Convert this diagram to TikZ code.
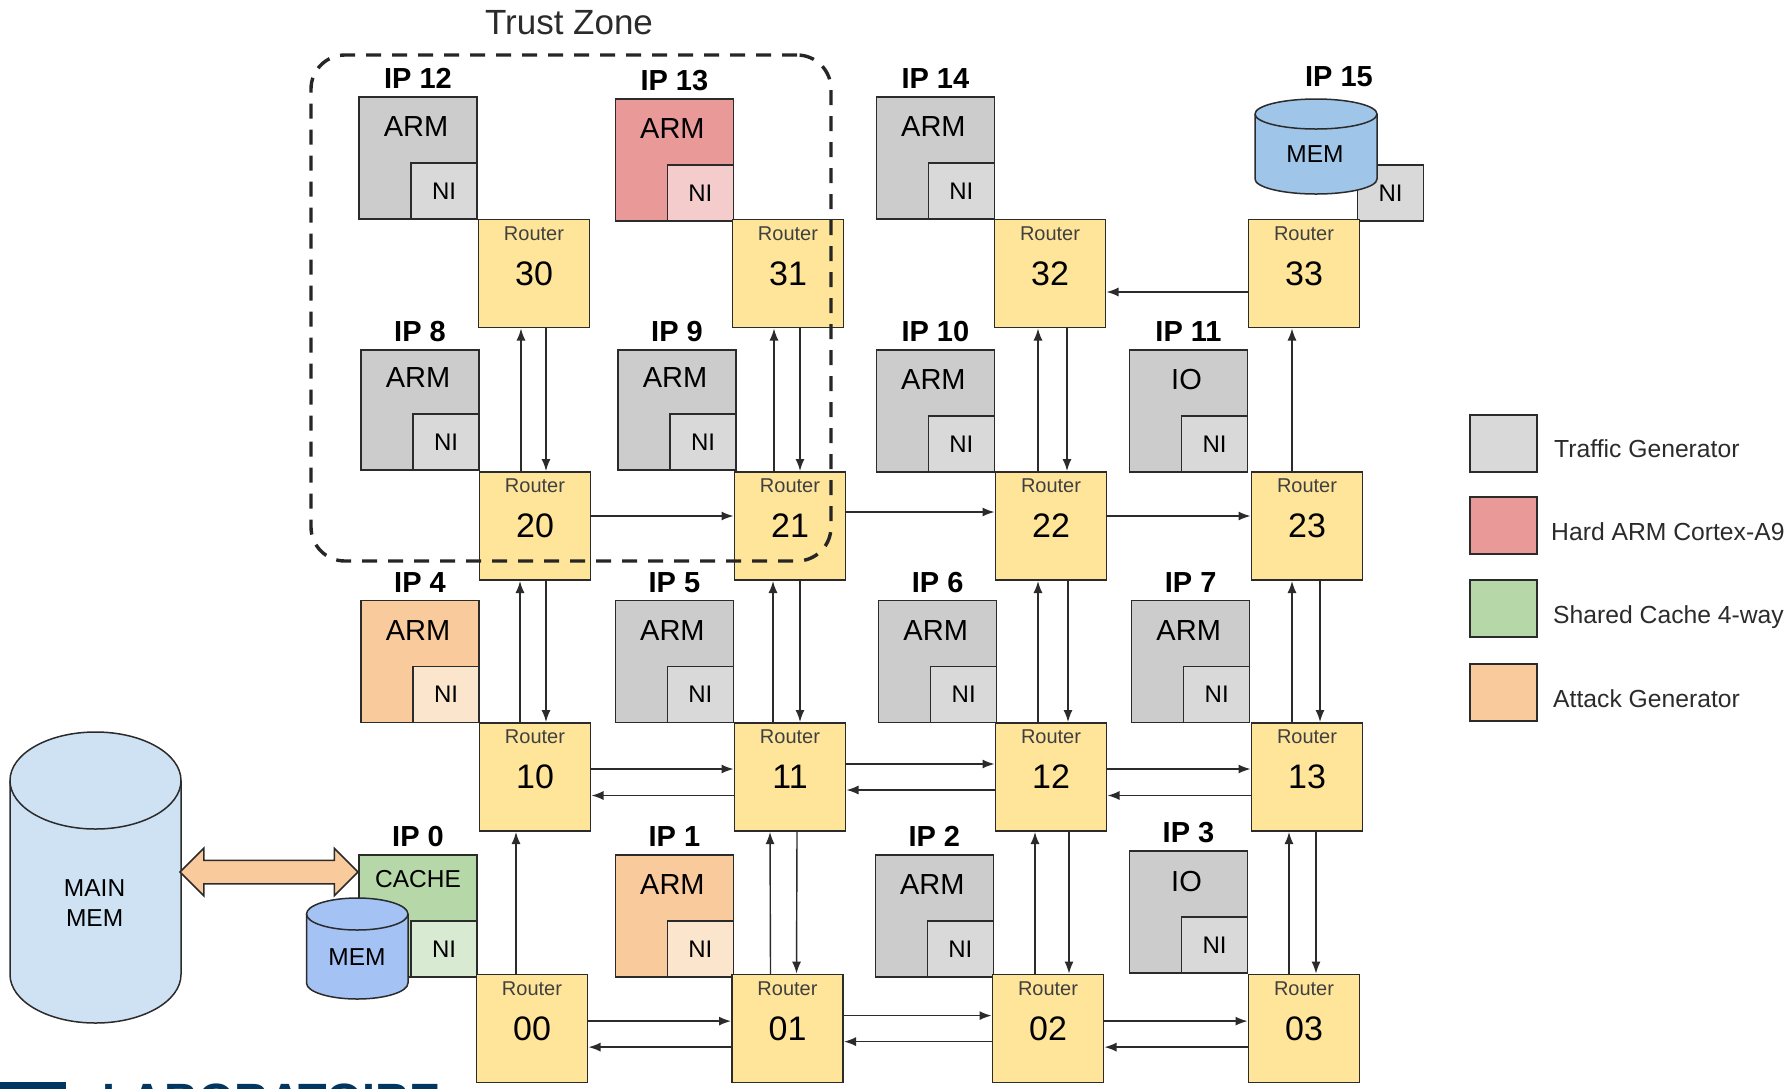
\documentclass[tikz,border=0pt]{standalone}
\usepackage{fontspec}
\setmainfont{Liberation Sans}
\usepackage{tikz}
\usetikzlibrary{arrows.meta, positioning, shapes.arrows}

\definecolor{routerfill}{HTML}{FFE599}
\definecolor{grayfill}{HTML}{CCCCCC}
\definecolor{graylite}{HTML}{D9D9D9}
\definecolor{redfill}{HTML}{EA9999}
\definecolor{redlite}{HTML}{F4CCCC}
\definecolor{greenfill}{HTML}{B6D7A8}
\definecolor{greenlite}{HTML}{D9EAD3}
\definecolor{orangefill}{HTML}{F9CB9C}
\definecolor{orangelite}{HTML}{FCE5CD}
\definecolor{mainblue}{HTML}{CFE2F3}
\definecolor{memblue}{HTML}{A4C2F4}
\definecolor{topblue}{HTML}{9FC5E8}
\definecolor{edgecol}{HTML}{2B2B2B}
\definecolor{logoblue}{HTML}{003660}

\begin{document}
\begin{tikzpicture}[
  x=1pt, y=-1pt,
  box/.style={draw=edgecol, line width=1.5pt, inner sep=0pt, outer sep=0pt},
  ipbox/.style={box, anchor=north west, minimum width=118pt, minimum height=122pt},
  nibox/.style={box, anchor=south east, minimum width=66pt, minimum height=56pt, font=\fontsize{24}{26}\selectfont},
  iptext/.style={inner sep=0pt, font=\fontsize{29}{32}\selectfont},
  iptitle/.style={inner sep=0pt, yshift=8pt, font=\fontsize{29}{32}\selectfont\bfseries},
  router/.style={box, fill=routerfill, minimum width=111pt, minimum height=108pt, font=\fontsize{34}{36}\selectfont,
    label={[anchor=north, inner sep=0pt, yshift=-7pt, text=edgecol!90, font=\fontsize{20}{22}\selectfont]90:Router}},
  link/.style={draw=edgecol, line width=1.4pt, -{Latex[length=12pt, width=9pt]}, shorten >=1pt},
  memdraw/.style={draw=edgecol, line width=1.5pt},
  memtext/.style={inner sep=0pt, align=center, font=\fontsize{24.5}{30}\selectfont},
  legendbox/.style={box, minimum width=67pt, minimum height=57pt},
  legendtext/.style={inner sep=0pt, yshift=-5pt, font=\fontsize{24.7}{27}\selectfont, text=edgecol}
]
  \useasboundingbox (0,0) rectangle (1787,1088);

  % Logo cut by the page edge
  \begin{scope}
    \clip (0,1070) rectangle (500,1088);
    \fill[logoblue] (0,1082) rectangle (66,1100);
    \node[anchor=base west, inner sep=0pt, text=logoblue, font=\fontsize{46.7}{50}\selectfont\bfseries] (logo) at (102,1116.5) {LABORATOIRE};
  \end{scope}

  % Main memory
  \draw[memdraw, fill=mainblue] (10,780.5) -- (10,974.5) arc[start angle=180, end angle=0, x radius=85.5, y radius=48.5]
    -- (181,780.5) arc[start angle=0, end angle=-180, x radius=85.5, y radius=48.5] -- cycle;
  \draw[memdraw] (10,780.5) arc[start angle=180, end angle=0, x radius=85.5, y radius=48.5];
  \node[memtext] (mainmem) at (94.6,902.6) {MAIN\\MEM};

  % Row 3
  \node[ipbox, fill=grayfill, label={[iptitle]above:IP 12}] (ip12) at (359,97) {};
  \node[iptext] (cpu12) at ([yshift=-30pt,xshift=-2pt]ip12.north) {ARM};
  \node[nibox, fill=graylite] (ni12) at (ip12.south east) {NI};
  \node[ipbox, fill=redfill, label={[iptitle]above:IP 13}] (ip13) at (615.4,99) {};
  \node[iptext] (cpu13) at ([yshift=-30pt,xshift=-2pt]ip13.north) {ARM};
  \node[nibox, fill=redlite] (ni13) at (ip13.south east) {NI};
  \node[ipbox, fill=grayfill, label={[iptitle]above:IP 14}] (ip14) at (876.4,97) {};
  \node[iptext] (cpu14) at ([yshift=-30pt,xshift=-2pt]ip14.north) {ARM};
  \node[nibox, fill=graylite] (ni14) at (ip14.south east) {NI};
  \node[nibox, fill=graylite] (ni15) at (1423.5,221) {NI};
  \draw[memdraw, fill=topblue] (1255,114) -- (1255,179) arc[start angle=180, end angle=0, x radius=61, y radius=15]
    -- (1377,114) arc[start angle=0, end angle=-180, x radius=61, y radius=15] -- cycle;
  \draw[memdraw] (1255,114) arc[start angle=180, end angle=0, x radius=61, y radius=15];
  \node[memtext] (mem15) at (1315,154) {MEM};
  \node[iptitle] (ip15) at (1339,84.5) {IP 15};

  \node[router] (r30) at (534,273.5) {30};
  \node[router] (r31) at (788,273.5) {31};
  \node[router] (r32) at (1050,273.5) {32};
  \node[router] (r33) at (1304,273.5) {33};

  % Row 2
  \node[ipbox, minimum height=120pt, fill=grayfill, label={[iptitle]above:IP 8}] (ip8) at (361,350) {};
  \node[iptext] (cpu8) at ([yshift=-28pt,xshift=-2pt]ip8.north) {ARM};
  \node[nibox, fill=graylite] (ni8) at (ip8.south east) {NI};
  \node[ipbox, minimum height=120pt, fill=grayfill, label={[iptitle]above:IP 9}] (ip9) at (618,350) {};
  \node[iptext] (cpu9) at ([yshift=-28pt,xshift=-2pt]ip9.north) {ARM};
  \node[nibox, fill=graylite] (ni9) at (ip9.south east) {NI};
  \node[ipbox, fill=grayfill, label={[iptitle]above:IP 10}] (ip10) at (876.4,350) {};
  \node[iptext] (cpu10) at ([yshift=-30pt,xshift=-2pt]ip10.north) {ARM};
  \node[nibox, fill=graylite] (ni10) at (ip10.south east) {NI};
  \node[ipbox, fill=grayfill, label={[iptitle]above:IP 11}] (ip11) at (1129.5,350) {};
  \node[iptext] (cpu11) at ([yshift=-30pt,xshift=-2pt]ip11.north) {IO};
  \node[nibox, fill=graylite] (ni11) at (ip11.south east) {NI};

  \node[router] (r20) at (535,526) {20};
  \node[router] (r21) at (790,526) {21};
  \node[router] (r22) at (1051,526) {22};
  \node[router] (r23) at (1307,526) {23};

  % Row 1
  \node[ipbox, fill=orangefill, label={[iptitle]above:IP 4}] (ip4) at (361,600.6) {};
  \node[iptext] (cpu4) at ([yshift=-30pt,xshift=-2pt]ip4.north) {ARM};
  \node[nibox, fill=orangelite] (ni4) at (ip4.south east) {NI};
  \node[ipbox, fill=grayfill, label={[iptitle]above:IP 5}] (ip5) at (615.4,600.6) {};
  \node[iptext] (cpu5) at ([yshift=-30pt,xshift=-2pt]ip5.north) {ARM};
  \node[nibox, fill=graylite] (ni5) at (ip5.south east) {NI};
  \node[ipbox, fill=grayfill, label={[iptitle]above:IP 6}] (ip6) at (878.7,600.6) {};
  \node[iptext] (cpu6) at ([yshift=-30pt,xshift=-2pt]ip6.north) {ARM};
  \node[nibox, fill=graylite] (ni6) at (ip6.south east) {NI};
  \node[ipbox, fill=grayfill, label={[iptitle]above:IP 7}] (ip7) at (1131.7,600.6) {};
  \node[iptext] (cpu7) at ([yshift=-30pt,xshift=-2pt]ip7.north) {ARM};
  \node[nibox, fill=graylite] (ni7) at (ip7.south east) {NI};

  \node[router] (r10) at (535,777) {10};
  \node[router] (r11) at (790,777) {11};
  \node[router] (r12) at (1051,777) {12};
  \node[router] (r13) at (1307,777) {13};

  % Row 0
  \node[ipbox, fill=greenfill, label={[iptitle]above:IP 0}] (ip0) at (359,855) {};
  \node[iptext, font=\fontsize{24.5}{27}\selectfont] (cache0) at ([yshift=-24pt]ip0.north) {CACHE};
  \node[nibox, fill=greenlite] (ni0) at (ip0.south east) {NI};
  \draw[memdraw, fill=memblue] (306.5,914) -- (306.5,983) arc[start angle=180, end angle=0, x radius=50.75, y radius=16]
    -- (408,914) arc[start angle=0, end angle=-180, x radius=50.75, y radius=16] -- cycle;
  \draw[memdraw] (306.5,914) arc[start angle=180, end angle=0, x radius=50.75, y radius=16];
  \node[memtext] (mem0) at (357,957) {MEM};
  \node[ipbox, fill=orangefill, label={[iptitle]above:IP 1}] (ip1) at (615.4,855) {};
  \node[iptext] (cpu1) at ([yshift=-30pt,xshift=-2pt]ip1.north) {ARM};
  \node[nibox, fill=orangelite] (ni1) at (ip1.south east) {NI};
  \node[ipbox, fill=grayfill, label={[iptitle]above:IP 2}] (ip2) at (875.3,855) {};
  \node[iptext] (cpu2) at ([yshift=-30pt,xshift=-2pt]ip2.north) {ARM};
  \node[nibox, fill=graylite] (ni2) at (ip2.south east) {NI};
  \node[ipbox, fill=grayfill, label={[iptitle]above:IP 3}] (ip3) at (1129.5,851) {};
  \node[iptext] (cpu3) at ([yshift=-30pt,xshift=-2pt]ip3.north) {IO};
  \node[nibox, fill=graylite] (ni3) at (ip3.south east) {NI};

  \node[router] (r00) at (532,1028.6) {00};
  \node[router] (r01) at (787.5,1028.6) {01};
  \node[router] (r02) at (1048,1028.6) {02};
  \node[router] (r03) at (1304,1028.6) {03};

  % Link from main memory to the cache
  \node[draw=edgecol, line width=1.5pt, fill=orangefill, shape=double arrow, double arrow head extend=12pt, inner sep=11pt,
    minimum height=178pt, minimum width=46pt, double arrow tip angle=90] (memlink) at (269,872) {};

  % Vertical links
  \draw[link] ([xshift=-14pt]r20.north) -- ([xshift=-13pt]r30.south);
  \draw[link] ([xshift=12pt]r30.south) -- ([xshift=11pt]r20.north);
  \draw[link] ([xshift=-16pt]r21.north) -- ([xshift=-14pt]r31.south);
  \draw[link] ([xshift=12pt]r31.south) -- ([xshift=10pt]r21.north);
  \draw[link] ([xshift=-13pt]r22.north) -- ([xshift=-12pt]r32.south);
  \draw[link] ([xshift=17pt]r32.south) -- ([xshift=16pt]r22.north);
  \draw[link] ([xshift=-15pt]r23.north) -- ([xshift=-12pt]r33.south);

  \draw[link] ([xshift=-15pt]r10.north) -- ([xshift=-15pt]r20.south);
  \draw[link] ([xshift=11pt]r20.south) -- ([xshift=11pt]r10.north);
  \draw[link] ([xshift=-17pt]r11.north) -- ([xshift=-17pt]r21.south);
  \draw[link] ([xshift=10pt]r21.south) -- ([xshift=10pt]r11.north);
  \draw[link] ([xshift=-13pt]r12.north) -- ([xshift=-13pt]r22.south);
  \draw[link] ([xshift=17pt]r22.south) -- ([xshift=17pt]r12.north);
  \draw[link] ([xshift=-15pt]r13.north) -- ([xshift=-15pt]r23.south);
  \draw[link] ([xshift=13pt]r23.south) -- ([xshift=13pt]r13.north);

  \draw[link] ([xshift=-16pt]r00.north) -- ([xshift=-19pt]r10.south);
  \draw[link] ([xshift=-17pt]r01.north) -- ([xshift=-20pt]r11.south);
  \draw[link] ([xshift=7pt]r11.south) -- ([xshift=9pt]r01.north);
  \draw[link] ([xshift=-13pt]r02.north) -- ([xshift=-16pt]r12.south);
  \draw[link] ([xshift=18pt]r12.south) -- ([xshift=21pt]r02.north);
  \draw[link] ([xshift=-15pt]r03.north) -- ([xshift=-18pt]r13.south);
  \draw[link] ([xshift=9pt]r13.south) -- ([xshift=12pt]r03.north);

  % Horizontal links
  \draw[link] ([yshift=-18.5pt]r33.west) -- ([yshift=-18.5pt]r32.east);
  \draw[link] ([yshift=10pt]r20.east) -- ([yshift=10pt]r21.west);
  \draw[link] ([yshift=14pt]r21.east) -- ([yshift=14pt]r22.west);
  \draw[link] ([yshift=10pt]r22.east) -- ([yshift=10pt]r23.west);

  \draw[link] ([yshift=8pt]r10.east) -- ([yshift=8pt]r11.west);
  \draw[link] ([yshift=-18.5pt]r11.west) -- ([yshift=-18.5pt]r10.east);
  \draw[link] ([yshift=13pt]r11.east) -- ([yshift=13pt]r12.west);
  \draw[link] ([yshift=-13pt]r12.west) -- ([yshift=-13pt]r11.east);
  \draw[link] ([yshift=8pt]r12.east) -- ([yshift=8pt]r13.west);
  \draw[link] ([yshift=-18.5pt]r13.west) -- ([yshift=-18.5pt]r12.east);

  \draw[link] ([yshift=7.5pt]r00.east) -- ([yshift=7.5pt]r01.west);
  \draw[link] ([yshift=-18.5pt]r01.west) -- ([yshift=-18.5pt]r00.east);
  \draw[link] ([yshift=13pt]r01.east) -- ([yshift=13pt]r02.west);
  \draw[link] ([yshift=-13pt]r02.west) -- ([yshift=-13pt]r01.east);
  \draw[link] ([yshift=7.5pt]r02.east) -- ([yshift=7.5pt]r03.west);
  \draw[link] ([yshift=-18.5pt]r03.west) -- ([yshift=-18.5pt]r02.east);

  % Trust zone
  \node[draw=black!85, line width=3.4pt, dash pattern=on 15pt off 11pt, rounded corners=34pt, inner sep=0pt,
    minimum width=520pt, minimum height=506pt] (zone) at (571,308) {};
  \node[inner sep=0pt, font=\fontsize{35}{37}\selectfont, text=edgecol] (zonetitle) at (569,23) {Trust Zone};

  % Legend
  \node[legendbox, fill=graylite] (lg0) at (1503.5,443.5) {};
  \node[legendtext, anchor=west] (lgt0) at (1554,443.5) {Traffic Generator};
  \node[legendbox, fill=redfill] (lg1) at (1503.5,525.5) {};
  \node[legendtext, anchor=west] (lgt1) at (1551,526.5) {Hard ARM Cortex-A9};
  \node[legendbox, fill=greenfill] (lg2) at (1503.5,608.5) {};
  \node[legendtext, anchor=west] (lgt2) at (1553,612) {Shared Cache 4-way};
  \node[legendbox, fill=orangefill] (lg3) at (1503.5,692.5) {};
  \node[legendtext, anchor=west] (lgt3) at (1553,694) {Attack Generator};
\end{tikzpicture}
\end{document}
